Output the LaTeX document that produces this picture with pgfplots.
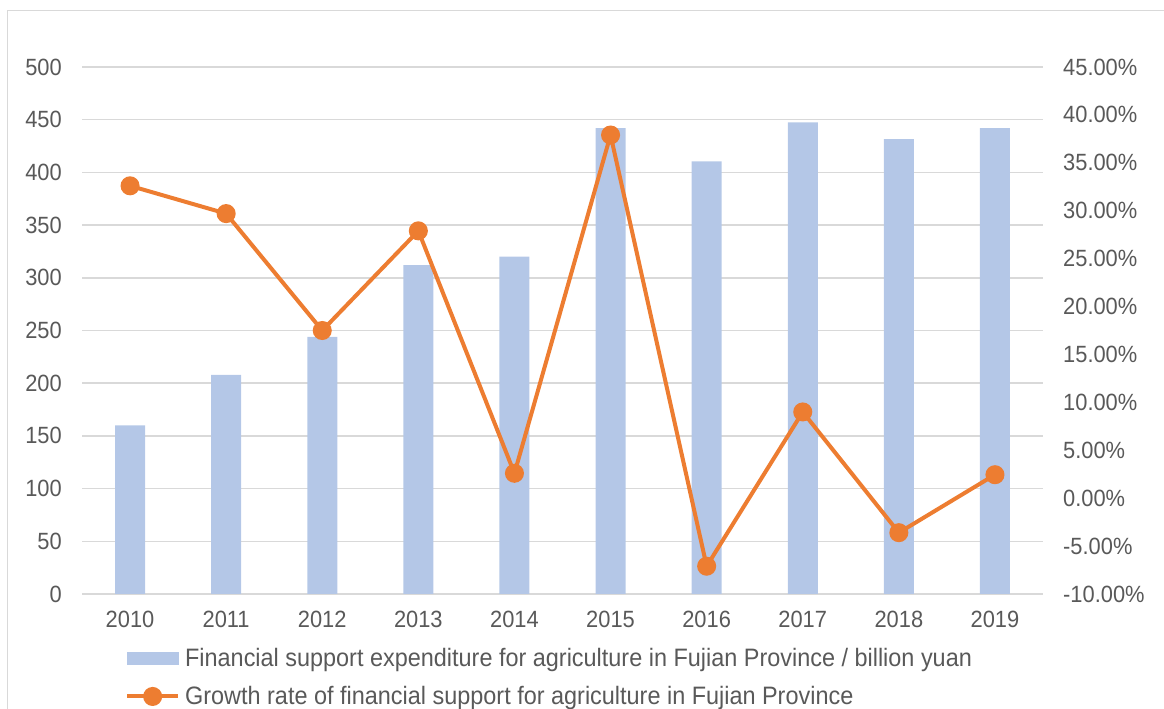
\documentclass[border=0pt]{standalone}
\usepackage{pgfplots}
\pgfplotsset{compat=1.18}
\usepackage{fontspec}
\setmainfont[FakeStretch=0.93]{Liberation Sans}
\definecolor{barc}{HTML}{B4C7E7}
\definecolor{linec}{HTML}{ED7D31}
\definecolor{txt}{HTML}{595959}
\definecolor{gridc}{HTML}{D9D9D9}
\begin{document}
\begin{tikzpicture}
\useasboundingbox (0bp,0bp) rectangle (1164bp,709bp);
\draw[gridc, line width=1.5bp] (7.5bp,698.5bp) rectangle (1200bp,-20bp);
\pgfplotsset{
  common/.style={
    at={(82bp,115bp)}, anchor=south west, scale only axis,
    width=961bp, height=527bp,
    xmin=-0.5, xmax=9.5,
    major tick length=0pt,
    tick label style={font=\fontsize{23.5bp}{28bp}\selectfont, text=txt, inner sep=0pt},
    /pgf/number format/assume math mode=true,
  }
}
\begin{axis}[common,
  ymin=0, ymax=500, ytick={0,50,...,500},
  xtick={0,...,9},
  xticklabels={2010,2011,2012,2013,2014,2015,2016,2017,2018,2019},
  yticklabel style={xshift=-20bp},
  xticklabel style={yshift=-17bp},
  ymajorgrids, grid style={gridc, line width=1.5bp},
  axis line style={draw=none},
]
\addplot[ybar, bar width=30bp, fill=barc, draw=none] coordinates {
(0,160) (1,208) (2,244) (3,312) (4,320) (5,442) (6,410.5) (7,447.5) (8,431.5) (9,442)
};
\end{axis}
\begin{axis}[common,
  ymin=-10, ymax=45, ytick={-10,-5,...,45},
  axis y line*=right, axis x line=none,
  axis line style={draw=none},
  yticklabel={\pgfmathprintnumber[fixed,fixed zerofill,precision=2]{\tick}\%},
  yticklabel style={xshift=20bp, anchor=west},
  legend style={at={(0.0447,-0.098)}, anchor=north west, draw=none, fill=none,
    inner sep=0pt, row sep=15bp, font=\fontsize{25.2bp}{30bp}\selectfont, text=txt,
    cells={anchor=west}, nodes={inner xsep=5bp}},
]
\addlegendimage{legend image code/.code={\fill[barc] (0bp,-6bp) rectangle (51bp,6bp);}}
\addlegendentry{Financial support expenditure for agriculture in Fujian Province / billion yuan}
\addplot[linec, line width=4bp, mark=*, mark size=7.5bp, mark options={fill=linec, draw=linec},
  legend image code/.code={\draw[linec, line width=4bp] (0bp,0bp) -- (51bp,0bp); \fill[linec] (25.5bp,0bp) circle (7.5bp);}]
coordinates {
(0,32.6) (1,29.7) (2,17.5) (3,27.9) (4,2.6) (5,37.9) (6,-7.1) (7,9.0) (8,-3.6) (9,2.45)
};
\addlegendentry{Growth rate of financial support for agriculture in Fujian Province}
\end{axis}
\end{tikzpicture}
\end{document}
